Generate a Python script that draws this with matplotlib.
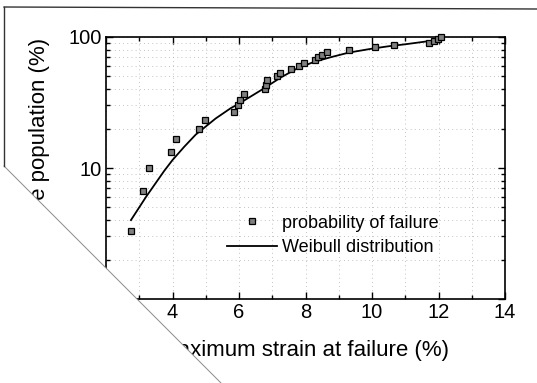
import numpy as np
import matplotlib
matplotlib.use("Agg")
import matplotlib.pyplot as plt
from matplotlib.ticker import MultipleLocator, LogLocator, NullFormatter, FixedLocator
from matplotlib.patches import Polygon
from matplotlib.lines import Line2D

plt.rcParams['font.family'] = ['Liberation Sans', 'DejaVu Sans']

# measured points (strain %, cumulative %)
strain = [2.75, 3.12, 3.29, 3.94, 4.11, 4.81, 4.99, 5.85, 5.97, 6.03,
          6.14, 6.77, 6.80, 6.84, 7.14, 7.22, 7.57, 7.79, 7.96, 8.30,
          8.38, 8.50, 8.65, 9.32, 10.10, 10.67, 11.71, 11.86, 11.97, 12.07]
prob = [3.3, 6.7, 10.0, 13.3, 16.7, 20.0, 23.3, 26.7, 30.0, 33.3,
        36.7, 40.0, 43.3, 46.7, 50.0, 53.3, 56.7, 60.0, 63.3, 66.7,
        70.0, 73.3, 76.7, 80.0, 83.3, 86.7, 90.0, 93.3, 96.7, 100.0]

# fitted curve
fit_x = [2.75, 3.2, 3.75, 4.0, 4.35, 4.7, 5.3, 5.75, 6.0, 6.75,
         7.25, 7.75, 8.25, 8.75, 9.3, 10.0, 10.5, 11.0, 11.5, 12.1]
fit_y = [4.0, 6.0, 9.5, 11.5, 14.5, 18.0, 23.9, 28.6, 31.0, 40.5,
         49.0, 57.5, 64.5, 70.0, 76.0, 81.5, 85.0, 88.0, 91.5, 96.0]

W, H = 537, 383
fig = plt.figure(figsize=(W / 100, H / 100), dpi=100)
ax = fig.add_axes([106 / W, 1 - 299 / H, (505 - 106) / W, (299 - 37) / H])

ax.set_yscale('log')
ax.set_xlim(2, 14)
ax.set_ylim(1, 100)

ax.xaxis.set_major_locator(MultipleLocator(2))
ax.xaxis.set_minor_locator(MultipleLocator(1))
ax.yaxis.set_major_locator(FixedLocator([1, 10, 100]))
ax.yaxis.set_minor_locator(LogLocator(base=10, subs=np.arange(2, 10)))
ax.yaxis.set_minor_formatter(NullFormatter())
ax.set_yticklabels(['1', '10', '100'])

ax.tick_params(which='both', direction='in', top=True, right=True,
               labelsize=14.5, width=1)
ax.tick_params(which='major', length=5, pad=3)
ax.tick_params(which='minor', length=3)
for s in ax.spines.values():
    s.set_linewidth(1.2)

ax.grid(True, which='both', color='#b0b0b0', ls=(0, (1, 4)), lw=0.6)

ax.plot(strain, prob, 's', ms=3.8, mfc='#808080', mec='black', mew=0.9,
        clip_on=False, zorder=3, label='probability of failure')
ax.plot(fit_x, fit_y, '-', color='black', lw=1.3, label='Weibull distribution')

ax.set_xlabel('Maximum strain at failure (%)', fontsize=16)
ax.set_ylabel('Cumulative population (%)', fontsize=16)
ax.xaxis.set_label_coords(0.497, -0.155)
ax.yaxis.set_label_coords(-0.14, 0.5)

ax.legend(loc='center left', bbox_to_anchor=(0.303, 0.243), frameon=False,
          fontsize=13, handlelength=2.8, handletextpad=0.25,
          labelspacing=0.4, borderpad=0, borderaxespad=0)

# scanned page edges: folded corner hides the lower left
def px(x, y):
    return (x / W, 1 - y / H)

corner = Polygon([px(-5, 157), px(226, 388), px(-5, 388)], closed=True,
                 transform=fig.transFigure, facecolor='white',
                 edgecolor='none', zorder=10)
fig.add_artist(corner)
fig.add_artist(Line2D([4 / W, 222 / W], [1 - 166 / H, 1 - 384 / H],
                      transform=fig.transFigure, color='#8a8a8a', lw=0.7,
                      zorder=11))
fig.add_artist(Line2D([4 / W, 4 / W], [1 - 7 / H, 1 - 166 / H],
                      transform=fig.transFigure, color='#333333', lw=1.0,
                      zorder=11))
fig.add_artist(Line2D([4 / W, 537 / W], [1 - 7 / H, 1 - 9 / H],
                      transform=fig.transFigure, color='#333333', lw=1.0,
                      zorder=11))

fig.savefig('out.png', dpi=100)
